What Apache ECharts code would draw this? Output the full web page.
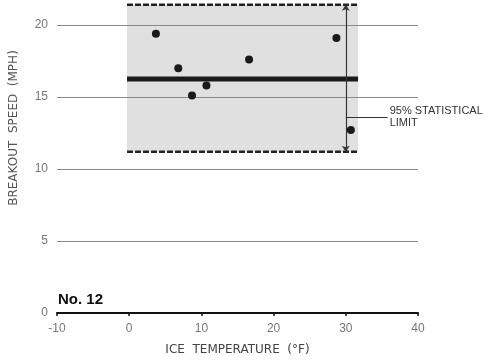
<!DOCTYPE html>
<html>
<head>
<meta charset="utf-8">
<script src="https://cdn.jsdelivr.net/npm/echarts@6/dist/echarts.min.js"></script>
<style>
html, body { margin: 0; padding: 0; background: #fff; }
#chart { width: 491px; height: 362px; }
</style>
</head>
<body>
<div id="chart"></div>
<script>
// data
var yTicks = [5, 10, 15, 20];
var temps = [3.7, 6.8, 8.7, 10.7, 16.6, 28.7, 30.7];
var speeds = [19.4, 17.0, 15.1, 15.8, 17.6, 19.1, 12.7];
var bandX = [-0.3, 31.7];
var bandLimits = [11.2, 21.4]; // lower / upper 95% limit
var meanSpeed = 16.25;
var limitX = 30;
var labelY = 13.6;
var labelEndX = 35.8;

var chart = echarts.init(document.getElementById('chart'));

var points = [];
for (var i = 0; i < temps.length; i++) {
	points.push([temps[i], speeds[i]]);
}

var gridLines = [];
for (var j = 0; j < yTicks.length; j++) {
	gridLines.push({ yAxis: yTicks[j] });
}

var option = {
	animation: false,
	grid: { left: 57, right: 73, top: 3.4, bottom: 49 },
	xAxis: {
		type: 'value',
		min: -10,
		max: 40,
		interval: 10,
		name: 'ICE  TEMPERATURE  (°F)',
		nameLocation: 'middle',
		nameGap: 31,
		nameTextStyle: { color: '#444', fontSize: 12, fontFamily: 'DejaVu Sans' },
		axisLine: { lineStyle: { color: '#111', width: 2 } },
		axisTick: { show: true, length: 3, lineStyle: { color: '#111', width: 1.5 } },
		axisLabel: { color: '#777', fontSize: 12, margin: 10, fontFamily: 'Liberation Sans' },
		splitLine: { show: false }
	},
	yAxis: {
		type: 'value',
		min: 0,
		max: 21.5,
		interval: 5,
		axisLine: { show: false },
		axisTick: { show: false },
		splitLine: { show: false },
		axisLabel: {
			color: '#777',
			fontSize: 12,
			margin: 9,
			fontFamily: 'Liberation Sans',
			formatter: function (v) { return v % 5 === 0 ? v : ''; }
		}
	},
	graphic: [
		{
			type: 'text',
			left: 58,
			top: 292,
			style: { text: 'No. 12', fill: '#111', font: 'bold 15px "Liberation Sans"' }
		},
		{
			type: 'text',
			x: 14,
			y: 128,
			rotation: Math.PI / 2,
			style: {
				text: 'BREAKOUT  SPEED  (MPH)',
				fill: '#555',
				font: '12px "DejaVu Sans"',
				align: 'center',
				verticalAlign: 'middle'
			}
		}
	],
	series: [
		{
			// shaded 95% band + grid lines
			type: 'line',
			data: [],
			silent: true,
			z: 1,
			markArea: {
				silent: true,
				itemStyle: { color: '#e0e0e0' },
				data: [[{ coord: [bandX[0], bandLimits[0]] }, { coord: [bandX[1], bandLimits[1]] }]]
			},
			markLine: {
				silent: true,
				symbol: 'none',
				label: { show: false },
				lineStyle: { color: '#8a8a8a', width: 1, type: 'solid' },
				data: gridLines
			}
		},
		{
			type: 'line',
			data: [[bandX[0], bandLimits[1]], [bandX[1], bandLimits[1]]],
			showSymbol: false,
			silent: true,
			z: 3,
			lineStyle: { color: '#222', width: 2.5, type: [6, 2] }
		},
		{
			type: 'line',
			data: [[bandX[0], bandLimits[0]], [bandX[1], bandLimits[0]]],
			showSymbol: false,
			silent: true,
			z: 3,
			lineStyle: { color: '#222', width: 2.5, type: [6, 2] }
		},
		{
			type: 'line',
			data: [[bandX[0], meanSpeed], [bandX[1], meanSpeed]],
			showSymbol: false,
			silent: true,
			z: 4,
			lineStyle: { color: '#1a1a1a', width: 5 }
		},
		{
			// 95% arrow and leader
			type: 'line',
			data: [],
			silent: true,
			z: 4,
			markLine: {
				silent: true,
				animation: false,
				data: [
					[
						{ coord: [limitX, bandLimits[1]], symbol: 'arrow', symbolSize: 6 },
						{ coord: [limitX, bandLimits[0]], symbol: 'arrow', symbolSize: 6 }
					],
					[
						{ coord: [limitX, labelY], symbol: 'none' },
						{
							coord: [labelEndX, labelY],
							symbol: 'none',
							label: {
								show: true,
								position: 'end',
								distance: 2,
								formatter: '95% STATISTICAL\nLIMIT',
								color: '#333',
								fontSize: 11,
								lineHeight: 12,
								fontFamily: 'Liberation Sans',
								padding: [12, 0, 0, 0]
							}
						}
					]
				],
				label: { show: false },
				lineStyle: { color: '#333', width: 1.2, type: 'solid' }
			}
		},
		{
			type: 'scatter',
			data: points,
			symbolSize: 8,
			z: 5,
			itemStyle: { color: '#1a1a1a', opacity: 1 }
		}
	]
};

chart.setOption(option);
</script>
</body>
</html>
